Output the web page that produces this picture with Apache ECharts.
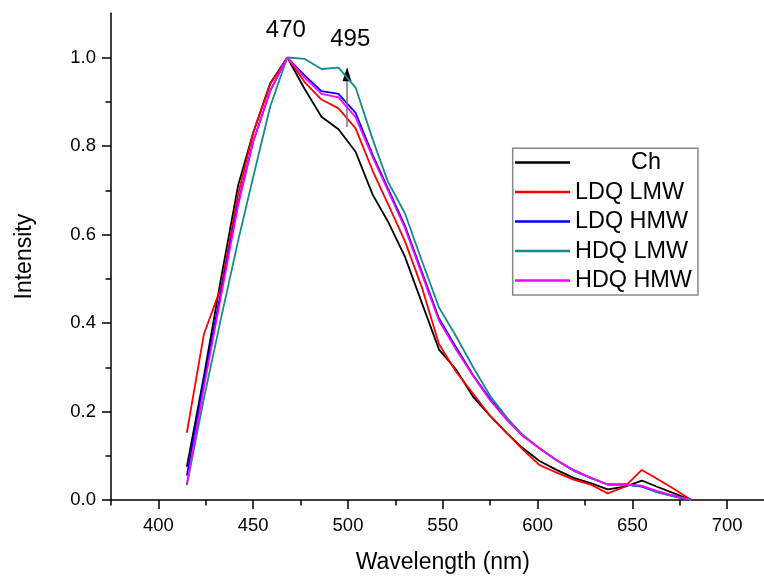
<!DOCTYPE html>
<html>
<head>
<meta charset="utf-8">
<script src="https://cdn.jsdelivr.net/npm/echarts@6/dist/echarts.min.js"></script>
<style>html,body{margin:0;padding:0;background:#fff}#c{width:764px;height:576px}</style>
</head>
<body>
<div id="c"></div>
<script>
// Wavelength (nm)
var wavelength = [415, 424, 433, 442, 450, 459, 468, 477, 486, 495, 504, 513, 521, 530, 539, 548, 557, 566, 575, 584, 592, 601, 610, 619, 628, 637, 646, 655, 663, 672, 681];
var seriesNames = ['Ch', 'LDQ LMW', 'LDQ HMW', 'HDQ LMW', 'HDQ HMW'];
var ch      = [0.075, 0.28, 0.50, 0.71, 0.83, 0.942, 1.0, 0.93, 0.866, 0.838, 0.787, 0.69, 0.63, 0.55, 0.445, 0.34, 0.295, 0.233, 0.19, 0.15, 0.118, 0.088, 0.068, 0.05, 0.038, 0.024, 0.03, 0.044, 0.03, 0.015, 0.0];
var ldqLmw  = [0.152, 0.375, 0.48, 0.69, 0.83, 0.94, 1.0, 0.945, 0.905, 0.885, 0.84, 0.744, 0.67, 0.585, 0.48, 0.352, 0.29, 0.24, 0.19, 0.15, 0.115, 0.079, 0.062, 0.046, 0.035, 0.015, 0.03, 0.068, 0.048, 0.025, 0.0];
var ldqHmw  = [0.055, 0.27, 0.47, 0.67, 0.81, 0.925, 1.0, 0.96, 0.924, 0.918, 0.875, 0.78, 0.705, 0.62, 0.515, 0.41, 0.345, 0.282, 0.228, 0.182, 0.146, 0.117, 0.09, 0.067, 0.05, 0.035, 0.035, 0.03, 0.018, 0.008, 0.0];
var hdqLmw  = [0.033, 0.23, 0.41, 0.585, 0.73, 0.89, 1.0, 0.997, 0.974, 0.977, 0.932, 0.815, 0.72, 0.648, 0.54, 0.435, 0.37, 0.30, 0.235, 0.185, 0.148, 0.117, 0.09, 0.066, 0.05, 0.035, 0.035, 0.032, 0.018, 0.008, 0.0];
var hdqHmw  = [0.035, 0.255, 0.46, 0.665, 0.81, 0.925, 1.0, 0.955, 0.918, 0.91, 0.865, 0.775, 0.70, 0.615, 0.51, 0.405, 0.34, 0.28, 0.225, 0.18, 0.145, 0.117, 0.09, 0.068, 0.05, 0.035, 0.035, 0.032, 0.02, 0.01, 0.0];
var seriesColors = ['#000000', '#ff0000', '#0000ff', '#168a8a', '#ff00ff'];
// annotations
var annotationText = ['470', '495'];
var annotationX = [467.2, 501.2];
var annotationY = [1.062, 1.041];
var arrowX = 499.5, arrowFrom = 0.843, arrowTo = 0.955, arrowHeadY = 0.962;
// ticks
var xTickLabels = [400, 450, 500, 550, 600, 650, 700];
var xMinorTicks = [375, 425, 475, 525, 575, 625, 675, 725];
var yTickLabels = [0.0, 0.2, 0.4, 0.6, 0.8, 1.0];
var yMinorTicks = [0.1, 0.3, 0.5, 0.7, 0.9];

var allValues = [ch, ldqLmw, ldqHmw, hdqLmw, hdqHmw];
var FONT = '"Liberation Sans", Arial, sans-serif';

var series = allValues.map(function (vals, i) {
  return {
    name: seriesNames[i],
    type: 'line',
    symbol: 'none',
    animation: false,
    data: wavelength.map(function (w, j) { return [w, vals[j]]; }),
    lineStyle: { color: seriesColors[i], width: 1.8 },
    itemStyle: { color: seriesColors[i] },
    z: 2 + i
  };
});
series[0].markLine = {
  silent: true,
  animation: false,
  symbol: ['none', 'none'],
  label: { show: false },
  lineStyle: { color: '#777', width: 1.5, type: 'solid' },
  data: [[{ coord: [arrowX, arrowFrom] }, { coord: [arrowX, arrowTo] }]]
};
series[0].markPoint = {
  silent: true,
  animation: false,
  data: annotationText.map(function (t, i) {
    return { name: t, coord: [annotationX[i], annotationY[i]], symbol: 'circle', symbolSize: 0,
      label: { show: true, position: 'inside', color: '#000', fontSize: 24, fontFamily: FONT,
        formatter: function (p) { return p.name; } } };
  }).concat([{ name: 'arrow', coord: [arrowX, arrowHeadY], symbol: 'triangle', symbolSize: [9, 14],
    itemStyle: { color: '#000' }, label: { show: false } }])
};

var chart = echarts.init(document.getElementById('c'), null, { renderer: 'canvas' });
chart.setOption({
  backgroundColor: '#fff',
  animation: false,
  textStyle: { fontFamily: FONT },
  grid: { left: 111, top: 13.25, right: -10.6, bottom: 76, containLabel: false, outerBoundsMode: 'none' },
  legend: {
    orient: 'vertical',
    left: 512.7,
    top: 148.3,
    padding: [2.3, 6, 2.3, 2.3],
    borderColor: '#888',
    borderWidth: 1.5,
    icon: 'rect',
    itemWidth: 55,
    itemHeight: 2.5,
    itemGap: 5.5,
    data: seriesNames,
    textStyle: { fontSize: 23.4, color: '#000', fontFamily: FONT, lineHeight: 24,
      rich: { c: { fontSize: 23.4, fontFamily: FONT, color: '#000', padding: [0, 0, 0, 56], lineHeight: 24 } } },
    formatter: function (name) { return name === 'Ch' ? '{c|Ch}' : name; }
  },
  xAxis: [{
    type: 'value',
    min: 375, max: 725,
    name: 'Wavelength (nm)',
    nameLocation: 'middle',
    nameGap: 51,
    nameTextStyle: { fontSize: 23, color: '#000', fontFamily: FONT },
    axisLine: { lineStyle: { color: '#000', width: 1.5 } },
    axisTick: { length: 9, lineStyle: { color: '#000', width: 1.5 }, customValues: xTickLabels },
    axisLabel: { fontSize: 18.5, color: '#000', margin: 16, fontFamily: FONT, customValues: xTickLabels },
    splitLine: { show: false }
  }, {
    type: 'value',
    min: 375, max: 725,
    position: 'bottom',
    axisLine: { show: false },
    axisTick: { show: true, length: 5.5, lineStyle: { color: '#000', width: 1.5 }, customValues: xMinorTicks },
    axisLabel: { show: false },
    splitLine: { show: false }
  }],
  yAxis: [{
    type: 'value',
    min: 0, max: 1.1,
    name: 'Intensity',
    nameLocation: 'middle',
    nameGap: 75,
    nameRotate: 90,
    nameTextStyle: { fontSize: 23, color: '#000', fontFamily: FONT },
    axisLine: { show: true, lineStyle: { color: '#000', width: 1.5 } },
    axisTick: { show: true, length: 9, lineStyle: { color: '#000', width: 1.5 }, customValues: yTickLabels },
    axisLabel: { fontSize: 18.5, color: '#000', margin: 15, fontFamily: FONT,
      customValues: yTickLabels,
      formatter: function (v) { return v.toFixed(1); } },
    splitLine: { show: false }
  }, {
    type: 'value',
    min: 0, max: 1.1,
    position: 'left',
    axisLine: { show: false },
    axisTick: { show: true, length: 5.5, lineStyle: { color: '#000', width: 1.5 }, customValues: yMinorTicks },
    axisLabel: { show: false },
    splitLine: { show: false }
  }],
  series: series
});
</script>
</body>
</html>
